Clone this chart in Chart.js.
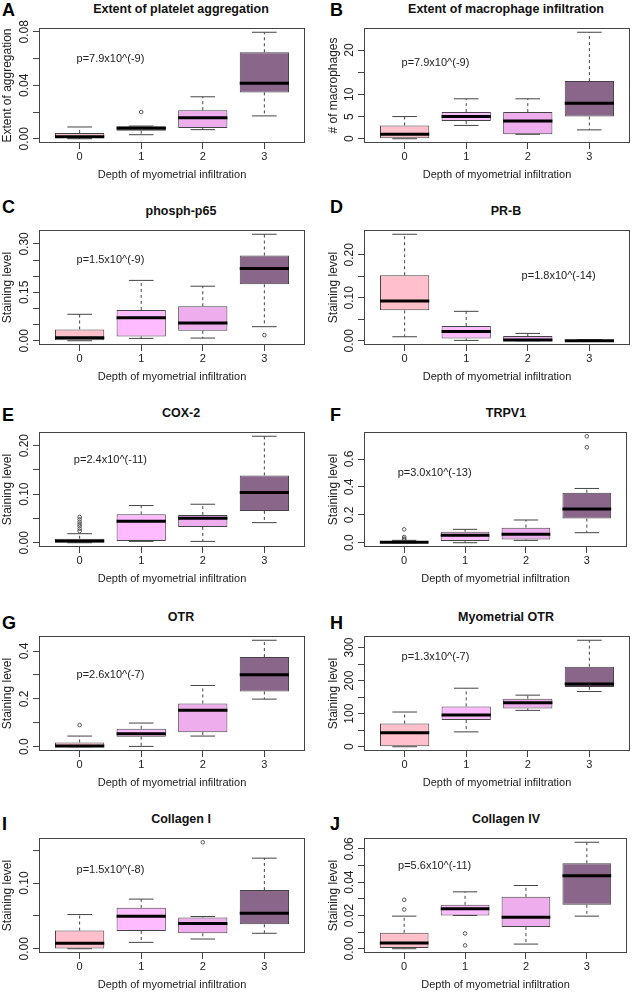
<!DOCTYPE html>
<html>
<head>
<meta charset="utf-8">
<script src="https://cdn.jsdelivr.net/npm/chart.js@4.4.1/dist/chart.umd.min.js"></script>
<style>
  body { margin: 0; background: #fff; font-family: 'Liberation Sans', Arial, sans-serif; }
  #fig { position: relative; width: 632px; height: 992px; overflow: hidden; }
  #fig canvas { position: absolute; }
  .letter { position: absolute; font-weight: bold; font-size: 18px; line-height: 1; color: #000; }
  .title { position: absolute; font-weight: bold; font-size: 12.5px; line-height: 1; color: #111;
           white-space: nowrap; transform: translateX(-50%); }
</style>
</head>
<body>
<div id="fig"></div>
<script>
const depthLabels = ['0', '1', '2', '3'];

// each row: [lower whisker, Q1, median, Q3, upper whisker] for depth 0..3

// A
const aggregationStats = [
  [0.0000, 0.0005, 0.0015, 0.0043, 0.0088],
  [0.0030, 0.0060, 0.0078, 0.0093, 0.0095],
  [0.0068, 0.0080, 0.0158, 0.0214, 0.0314],
  [0.0171, 0.0347, 0.0415, 0.0647, 0.0797]
];
const aggregationOutliers = [[], [0.020], [], []];
const aggregationTicks = [0, 0.02, 0.04, 0.06, 0.08];
const aggregationLabels = ['0.00', '0.04', '0.08'];

// B
const macrophageStats = [
  [0, 0, 1, 3, 5],
  [3, 4, 5, 6, 9],
  [1, 1, 4, 6, 9],
  [2, 5, 8, 13, 24]
];
const macrophageOutliers = [[], [], [], []];
const macrophageTicks = [0, 5, 10, 15, 20];
const macrophageLabels = ['0', '5', '10', '20'];

// C
const p65Stats = [
  [0.0000, 0.0000, 0.0093, 0.0350, 0.0820],
  [0.0073, 0.0135, 0.0716, 0.0955, 0.1870],
  [0.0083, 0.0310, 0.0550, 0.1070, 0.1690],
  [0.0436, 0.1750, 0.2240, 0.2640, 0.3300]
];
const p65Outliers = [[], [], [], [0.0176]];
const p65Ticks = [0, 0.05, 0.10, 0.15, 0.20, 0.25, 0.30];
const p65Labels = ['0.00', '0.15', '0.30'];

// D
const prbStats = [
  [0.0093, 0.0708, 0.0926, 0.1525, 0.2480],
  [0.0008, 0.0054, 0.0218, 0.0342, 0.0685],
  [0.0000, 0.0000, 0.0016, 0.0109, 0.0171],
  [0.0000, 0.0000, 0.0000, 0.0006, 0.0025]
];
const prbOutliers = [[], [], [], []];
const prbTicks = [0, 0.05, 0.10, 0.15, 0.20];
const prbLabels = ['0.00', '0.10', '0.20'];

// E
const cox2Stats = [
  [0.0000, 0.0007, 0.0034, 0.0083, 0.0186],
  [0.0028, 0.0034, 0.0441, 0.0586, 0.0766],
  [0.0028, 0.0324, 0.0503, 0.0572, 0.0793],
  [0.0414, 0.0655, 0.1034, 0.1386, 0.2193]
];
const cox2Outliers = [[0.024, 0.029, 0.034, 0.038, 0.043, 0.048, 0.053], [], [], []];
const cox2Ticks = [0, 0.05, 0.10, 0.15, 0.20];
const cox2Labels = ['0.00', '0.10', '0.20'];

// F
const trpv1Stats = [
  [0.000, 0.000, 0.004, 0.010, 0.017],
  [0.000, 0.012, 0.053, 0.079, 0.096],
  [0.017, 0.024, 0.060, 0.108, 0.163],
  [0.072, 0.173, 0.242, 0.358, 0.389]
];
const trpv1Outliers = [[0.022, 0.029, 0.041, 0.096], [], [], [0.684, 0.763]];
const trpv1Ticks = [0, 0.2, 0.4, 0.6];
const trpv1Labels = ['0.0', '0.2', '0.4', '0.6'];

// G
const otrStats = [
  [0.0000, 0.0000, 0.0028, 0.0180, 0.0446],
  [0.0014, 0.0420, 0.0540, 0.0750, 0.0990],
  [0.0446, 0.0610, 0.1520, 0.1810, 0.2560],
  [0.1990, 0.2310, 0.3010, 0.3750, 0.4450]
];
const otrOutliers = [[0.0906], [], [], []];
const otrTicks = [0, 0.1, 0.2, 0.3, 0.4];
const otrLabels = ['0.0', '0.2', '0.4'];

// H
const myoOtrStats = [
  [0, 0, 42, 70, 105],
  [45, 81, 96, 122, 177],
  [110, 116, 133, 145, 156],
  [167, 181, 190, 242, 322]
];
const myoOtrOutliers = [[], [], [], []];
const myoOtrTicks = [0, 50, 100, 150, 200, 250, 300];
const myoOtrLabels = ['0', '100', '200', '300'];

// I
const col1Stats = [
  [0.0000, 0.0005, 0.0082, 0.0276, 0.0520],
  [0.0097, 0.0270, 0.0495, 0.0622, 0.0755],
  [0.0148, 0.0235, 0.0383, 0.0474, 0.0490],
  [0.0235, 0.0372, 0.0540, 0.0893, 0.1378]
];
const col1Outliers = [[], [], [0.162], []];
const col1Ticks = [0, 0.05, 0.10, 0.15];
const col1Labels = ['0.00', '0.10'];

// J
const col4Stats = [
  [0.0000, 0.0004, 0.0034, 0.0096, 0.0196],
  [0.0200, 0.0200, 0.0240, 0.0264, 0.0342],
  [0.0028, 0.0130, 0.0190, 0.0312, 0.0380],
  [0.0196, 0.0264, 0.0438, 0.0514, 0.0640]
];
const col4Outliers = [[0.0236, 0.0294], [0.0092, 0.0020], [], []];
const col4Ticks = [0, 0.01, 0.02, 0.03, 0.04, 0.05, 0.06];
const col4Labels = ['0.00', '0.02', '0.04', '0.06'];

const pValues = ['p=7.9x10^(-9)', 'p=7.9x10^(-9)', 'p=1.5x10^(-9)', 'p=1.8x10^(-14)', 'p=2.4x10^(-11)',
                 'p=3.0x10^(-13)', 'p=2.6x10^(-7)', 'p=1.3x10^(-7)', 'p=1.5x10^(-8)', 'p=5.6x10^(-11)'];

const panels = [
  {id: 'A', title: 'Extent of platelet aggregation', yTitle: 'Extent of aggregation', stats: aggregationStats, outliers: aggregationOutliers, ticks: aggregationTicks, labels: aggregationLabels, pAt: [0.5, 0.06]},
  {id: 'B', title: 'Extent of macrophage infiltration', yTitle: '# of macrophages', stats: macrophageStats, outliers: macrophageOutliers, ticks: macrophageTicks, labels: macrophageLabels, pAt: [0.5, 17]},
  {id: 'C', title: 'phosph-p65', yTitle: 'Staining level', stats: p65Stats, outliers: p65Outliers, ticks: p65Ticks, labels: p65Labels, pAt: [0.5, 0.25]},
  {id: 'D', title: 'PR-B', yTitle: 'Staining level', stats: prbStats, outliers: prbOutliers, ticks: prbTicks, labels: prbLabels, pAt: [2.5, 0.15]},
  {id: 'E', title: 'COX-2', yTitle: 'Staining level', stats: cox2Stats, outliers: cox2Outliers, ticks: cox2Ticks, labels: cox2Labels, pAt: [0.5, 0.17]},
  {id: 'F', title: 'TRPV1', yTitle: 'Staining level', stats: trpv1Stats, outliers: trpv1Outliers, ticks: trpv1Ticks, labels: trpv1Labels, pAt: [0.5, 0.5]},
  {id: 'G', title: 'OTR', yTitle: 'Staining level', stats: otrStats, outliers: otrOutliers, ticks: otrTicks, labels: otrLabels, pAt: [0.5, 0.3]},
  {id: 'H', title: 'Myometrial OTR', yTitle: 'Staining level', stats: myoOtrStats, outliers: myoOtrOutliers, ticks: myoOtrTicks, labels: myoOtrLabels, pAt: [0.5, 270]},
  {id: 'I', title: 'Collagen I', yTitle: 'Staining level', stats: col1Stats, outliers: col1Outliers, ticks: col1Ticks, labels: col1Labels, pAt: [0.5, 0.12]},
  {id: 'J', title: 'Collagen IV', yTitle: 'Staining level', stats: col4Stats, outliers: col4Outliers, ticks: col4Ticks, labels: col4Labels, pAt: [0.5, 0.05]}
];

const boxColors = ['#FFC0CB', '#FFBBFF', '#EEAEEE', '#8B668B'];
const FONT = "'Liberation Sans', Arial, sans-serif";

// layout of the 2 x 5 grid
const boxTops = [28, 230, 432, 636, 838];
const titleBaselines = [14, 216, 418, 621.5, 823.5];
const letterTops = [3, 200.5, 408, 616, 817.5];
const colLeft = [0, 316];
const titleCenter = [181, 506];

Chart.defaults.font.family = FONT;
Chart.defaults.color = '#222';

// whiskers, caps, medians, frame, rotated y labels and p-value, like R's boxplot()
const rBoxPlot = {
  id: 'rBoxPlot',
  afterDatasetsDraw(chart, args, opts) {
    const {ctx, chartArea: a, scales: {x, y}} = chart;
    const p = opts.panel;
    ctx.save();
    p.stats.forEach((s, i) => {
      const cx = x.getPixelForValue(i);
      const half = x.getPixelForValue(i + 0.4) - cx;
      const cap = half / 2;
      const [lo, q1, med, q3, hi] = s.map(v => y.getPixelForValue(v));
      ctx.strokeStyle = '#444';
      ctx.lineWidth = 1;
      ctx.setLineDash([3, 3]);
      ctx.beginPath();
      ctx.moveTo(cx, q3); ctx.lineTo(cx, hi);
      ctx.moveTo(cx, q1); ctx.lineTo(cx, lo);
      ctx.stroke();
      ctx.setLineDash([]);
      ctx.beginPath();
      ctx.moveTo(cx - cap, hi); ctx.lineTo(cx + cap, hi);
      ctx.moveTo(cx - cap, lo); ctx.lineTo(cx + cap, lo);
      ctx.stroke();
      ctx.strokeStyle = '#000';
      ctx.lineWidth = 3;
      ctx.beginPath();
      ctx.moveTo(cx - half, med); ctx.lineTo(cx + half, med);
      ctx.stroke();
    });
    ctx.strokeStyle = '#444';
    ctx.lineWidth = 1;
    ctx.strokeRect(a.left + 0.5, a.top + 0.5, a.right - a.left - 1, a.bottom - a.top - 1);

    ctx.fillStyle = '#222';
    ctx.textAlign = 'center';
    ctx.textBaseline = 'middle';
    ctx.font = '12px ' + FONT;
    p.labels.forEach(t => {
      ctx.save();
      ctx.translate(a.left - 14, y.getPixelForValue(parseFloat(t)));
      ctx.rotate(-Math.PI / 2);
      ctx.fillText(t, 0, 0);
      ctx.restore();
    });
    ctx.font = '11px ' + FONT;
    ctx.fillText(p.pText, x.getPixelForValue(p.pAt[0]), y.getPixelForValue(p.pAt[1]));
    ctx.restore();
  }
};

const fig = document.getElementById('fig');

panels.forEach((p, k) => {
  const col = k % 2, row = Math.floor(k / 2);
  p.pText = pValues[k];

  const letter = document.createElement('div');
  letter.className = 'letter';
  letter.textContent = p.id;
  letter.style.left = (colLeft[col] + (col ? 14 : 2)) + 'px';
  letter.style.top = (letterTops[row] - 2.3) + 'px';
  fig.appendChild(letter);

  const title = document.createElement('div');
  title.className = 'title';
  title.textContent = p.title;
  title.style.left = titleCenter[col] + 'px';
  title.style.top = (titleBaselines[row] - 10.6) + 'px';
  fig.appendChild(title);

  const canvas = document.createElement('canvas');
  canvas.width = 316;
  canvas.height = 185;
  canvas.style.left = colLeft[col] + 'px';
  canvas.style.top = (boxTops[row] - 30) + 'px';
  fig.appendChild(canvas);

  // y range as R does it: data range stretched by 4% each side
  const all = p.stats.flat().concat(p.outliers.flat());
  const lo = Math.min(...all), hi = Math.max(...all);
  const ext = (hi - lo) * 0.04;

  new Chart(canvas, {
    type: 'bar',
    data: {
      datasets: [
        {
          data: p.stats.map((s, i) => ({x: i, y: [s[1], s[3]]})),
          backgroundColor: boxColors,
          borderColor: '#444',
          borderWidth: 1,
          borderSkipped: false,
          categoryPercentage: 1,
          barPercentage: 0.8
        },
        {
          type: 'scatter',
          data: p.outliers.flatMap((arr, i) => arr.map(v => ({x: i, y: v}))),
          pointRadius: 1.8,
          borderWidth: 1,
          borderColor: '#555',
          backgroundColor: 'rgba(0,0,0,0)'
        }
      ]
    },
    options: {
      responsive: false,
      animation: false,
      devicePixelRatio: 1,
      events: [],
      layout: {padding: {top: 30, bottom: 1, left: 0, right: col ? 2 : 11}},
      plugins: {
        legend: {display: false},
        tooltip: {enabled: false},
        rBoxPlot: {panel: p}
      },
      scales: {
        x: {
          type: 'linear',
          min: -0.66,
          max: 3.66,
          offset: false,
          afterBuildTicks: s => { s.ticks = depthLabels.map((_, i) => ({value: i})); },
          afterFit: s => { s.height = 39; },
          ticks: {callback: v => depthLabels[v], font: {size: 11}, color: '#222', padding: 1.5, maxRotation: 0, autoSkip: false},
          grid: {drawOnChartArea: false, drawTicks: true, tickLength: 6, color: '#444', offset: false},
          border: {display: false},
          title: {display: true, text: 'Depth of myometrial infiltration', font: {size: 11}, color: '#222', padding: 0}
        },
        y: {
          type: 'linear',
          min: lo - ext,
          max: hi + ext,
          afterBuildTicks: s => { s.ticks = p.ticks.map(v => ({value: v})); },
          afterFit: s => { s.width = col ? 48 : 39; },
          ticks: {display: false},
          grid: {drawOnChartArea: false, drawTicks: true, tickLength: 6, color: '#444'},
          border: {display: false},
          title: {display: true, text: p.yTitle, font: {size: 12}, color: '#222', padding: {top: col ? 10 : 0, bottom: 0}}
        }
      }
    },
    plugins: [rBoxPlot]
  });
});
</script>
</body>
</html>
